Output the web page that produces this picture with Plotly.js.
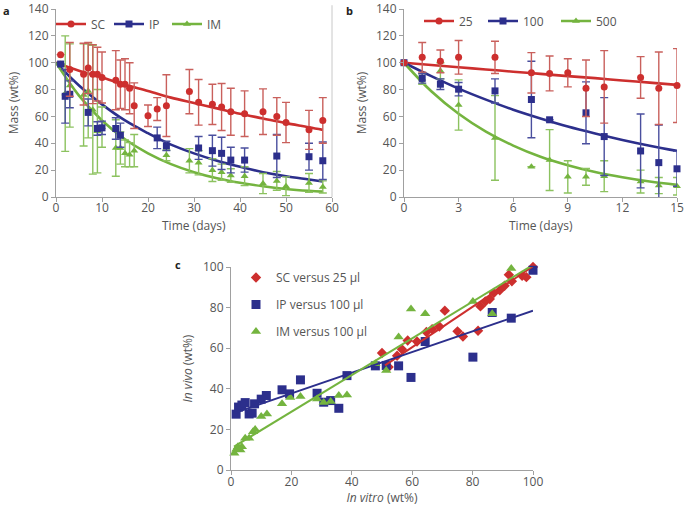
<!DOCTYPE html>
<html>
<head>
<meta charset="utf-8">
<script src="https://cdn.plot.ly/plotly-3.0.1.min.js"></script>
<style>html,body{margin:0;padding:0;background:#fff;}#chart{width:685px;height:506px;}</style>
</head>
<body>
<div id="chart"></div>
<script>
// ---------- Panel a : in vivo degradation by route ----------
var aSCday  = [1,3,6,7,8,9,10,13,14,15,16,17,20,22,24,29,31,34,36,38,41,45,48,50,55,58];
var aSCmass = [106,95,91.5,96,91.5,91.5,89,87,84,84,81,68,60.5,65.5,68,78.5,70.5,69,67,63.5,62,63.5,60,55.5,50,57];
var aSCerr  = [0,20,23,19,22,20,19,22,18,19,19,17,8,8.5,23,16.5,17,15,17.5,17.5,17,17,14,15,14.5,17];

var aIPday  = [1,2,3,7,9,10,13,14,22,24,31,34,36,38,41,48,55,58];
var aIPmass = [99,75,76.5,63,51,51.5,51,46,44,38,36.5,34.5,32.5,27.5,27.5,30.5,30,27];
var aIPerr  = [0,20,10,10,5,5,8,9,8,3.5,8.5,11.5,12,9.5,9,16,10,14];

var aIMday  = [1,2,3,6,7,8,9,10,13,14,15,16,17,24,29,31,34,36,38,41,45,48,50,55,58];
var aIMmass = [99,77,83,76,79,65,49,52,36.5,36.5,32.5,31.5,34.5,31,27,25.5,20,18.5,16,15.5,10,12,8,10.5,7.5];
var aIMerr  = [0,43,31,38,35,48,31,15,21,12,10,9,12,4,9,9,8.5,6,5,7,7.5,7,7,7,4.5];

var fitAday = [0,5,10,15,20,25,30,35,40,45,50,55,58];
var fitASC  = [100,94,89,83.5,79,74,70,66,62,58.5,55,52,50];
var fitAIP  = [100,83,69,57,47.5,39,32.5,27,22.5,18.5,15.5,13,11.5];
var fitAIM  = [100,75.5,57,43,32.5,24.5,18.5,14,10.6,8,6,4.6,4];

var aNames = ['SC','IP','IM'];

// ---------- Panel b : in vitro degradation by volume ----------
var bDay     = [0,1,2,3,5,7,8,9,10,11,13,14,15];
var b25mass  = [100,104,101,104,104,92.5,92,92.5,81,82,89,81,83];
var b25err   = [0,11,8.5,12.5,12,15,13,10.5,21,27,15.5,27,27.5];
var b100day  = [0,1,2,3,5,7,8,10,11,13,14,15];
var b100mass = [100,88.3,84,80.3,79,72.6,57.5,62.7,45,34.3,25.6,21];
var b100err  = [0,3.5,4,5,9,28.5,0,23,29,27.5,28,13];
var b500mass = [100,88,94,68.5,44,22.5,27.5,15,15,15.5,11.5,8.5,8];
var b500err  = [0,4,6,18.7,31.5,0,22.7,12,6.2,11.5,8.5,6,6.5];

var fitBday  = [0,1.5,3,4.5,6,7.5,9,10.5,12,13.5,15];
var fitB25   = [100,98.3,96.6,95,93.3,91.7,90,88.5,86.8,85.2,83.5];
var fitB100  = [100,90,80.7,72.5,65,58.5,52.5,47.3,42.5,38.2,34.3];
var fitB500  = [100,78.7,62,48.7,38.3,30,23.7,18.6,14.7,11.5,9];

var bNames = ['25','100','500'];

// ---------- Panel c : in vivo vs in vitro correlation ----------
var cSCx = [50,52.2,55,56.6,58.5,61.6,64.7,66.6,69,70.8,75,76.8,81.8,82.6,84.2,85.7,87,89,90.6,92,93,96.4,97.8,100];
var cSCy = [57.6,50.7,56.3,59.5,63.8,63.3,68,69.4,70.7,78.5,68.3,65.8,68.6,80.6,83,84.2,87.2,88.5,90.8,96.2,93,95.7,95,100];
var cIPx = [1.7,2.5,3.6,4.7,6,7,7.8,10,11.7,16.9,19.4,23,28.5,30.7,33,35.7,38.4,47.8,51.4,55.5,59.6,64.3,80.1,86.5,92.8,100];
var cIPy = [27.5,31,32,33.2,27.6,28,32.6,34.9,36.7,39.5,37.5,44.4,37.8,33.4,34.2,30.4,46.5,51.3,51.5,51.3,45.6,63.3,55.6,77.6,74.8,98.4];
var cIMx = [1.1,1.8,2.3,3.1,3.6,4.7,6,7.3,8,10,11.9,16.9,19.6,23,28.5,30.7,33,35.7,38.4,47.8,51.4,55.5,59.6,64.3,80.1,86.5,92.8,100];
var cIMy = [8.2,10.2,11.5,9.9,11.5,15.6,15.6,18.9,20,26.3,27.6,32.6,35.7,36.2,35,33.2,33.7,36.7,37,52.3,49,65.5,79.3,77,83,77,99.2,100.3];

var fitCSCx = [51,100],  fitCSCy = [51.5,100.3];
var fitCIPx = [1,100],   fitCIPy = [28,78.5];
var fitCIMx = [1,100],   fitCIMy = [11.5,101];

var cNames = ['SC versus 25 \u00b5l','IP versus 100 \u00b5l','IM versus 100 \u00b5l'];

// ---------- styles ----------
var RED = '#cd2f2e', BLUE = '#2c2f8c', GREEN = '#74b43f';
var RED_E = '#c9605c', BLUE_E = '#4a4f9e', GREEN_E = '#8cc25f';
var FONT = 'Open Sans, Liberation Sans, sans-serif';
var W = 685, H = 506;

function pts(x, y, err, color, ecolor, symbol, xa, ya) {
  return {x: x, y: y, type: 'scatter', mode: 'markers', xaxis: xa, yaxis: ya,
    showlegend: false, cliponaxis: false,
    marker: {color: color, size: 7, symbol: symbol},
    error_y: {type: 'data', array: err, visible: true, color: ecolor, thickness: 1.4, width: 4}};
}
function fit(x, y, color, xa, ya) {
  return {x: x, y: y, type: 'scatter', mode: 'lines', xaxis: xa, yaxis: ya,
    showlegend: false, hoverinfo: 'skip', cliponaxis: false,
    line: {color: color, width: 2.6, shape: 'spline'}};
}
function key(name, color, symbol, xa, ya, leg, lw) {
  return {x: [null], y: [null], type: 'scatter', mode: 'lines+markers', xaxis: xa, yaxis: ya,
    name: name, legend: leg, legendwidth: lw,
    line: {color: color, width: 2.6}, marker: {color: color, size: 7, symbol: symbol}};
}

var traces = [
  // panel a
  fit(fitAday, fitASC, RED, 'x', 'y'),
  fit(fitAday, fitAIP, BLUE, 'x', 'y'),
  fit(fitAday, fitAIM, GREEN, 'x', 'y'),
  pts(aIMday, aIMmass, aIMerr, GREEN, GREEN_E, 'triangle-up', 'x', 'y'),
  pts(aIPday, aIPmass, aIPerr, BLUE, BLUE_E, 'square', 'x', 'y'),
  pts(aSCday, aSCmass, aSCerr, RED, RED_E, 'circle', 'x', 'y'),
  key(aNames[0], RED, 'circle', 'x', 'y', 'legend', 13),
  key(aNames[1], BLUE, 'square', 'x', 'y', 'legend', 13),
  key(aNames[2], GREEN, 'triangle-up', 'x', 'y', 'legend', 13),
  // panel b
  fit(fitBday, fitB25, RED, 'x2', 'y2'),
  fit(fitBday, fitB100, BLUE, 'x2', 'y2'),
  fit(fitBday, fitB500, GREEN, 'x2', 'y2'),
  pts(bDay, b500mass, b500err, GREEN, GREEN_E, 'triangle-up', 'x2', 'y2'),
  pts(b100day, b100mass, b100err, BLUE, BLUE_E, 'square', 'x2', 'y2'),
  pts(bDay, b25mass, b25err, RED, RED_E, 'circle', 'x2', 'y2'),
  key(bNames[0], RED, 'circle', 'x2', 'y2', 'legend2', 19),
  key(bNames[1], BLUE, 'square', 'x2', 'y2', 'legend2', 28),
  key(bNames[2], GREEN, 'triangle-up', 'x2', 'y2', 'legend2', 20),
  // panel c
  {x: cSCx, y: cSCy, type: 'scatter', mode: 'markers', xaxis: 'x3', yaxis: 'y3', name: cNames[0],
   legend: 'legend3', legendgroup: 'c1', cliponaxis: false, marker: {color: RED, size: 8, symbol: 'diamond'}},
  {x: cIPx, y: cIPy, type: 'scatter', mode: 'markers', xaxis: 'x3', yaxis: 'y3', name: cNames[1],
   legend: 'legend3', legendgroup: 'c2', cliponaxis: false, marker: {color: BLUE, size: 9, symbol: 'square'}},
  {x: cIMx, y: cIMy, type: 'scatter', mode: 'markers', xaxis: 'x3', yaxis: 'y3', name: cNames[2],
   legend: 'legend3', legendgroup: 'c3', cliponaxis: false, marker: {color: GREEN, size: 9, symbol: 'triangle-up'}},
  {x: fitCSCx, y: fitCSCy, type: 'scatter', mode: 'lines', xaxis: 'x3', yaxis: 'y3', showlegend: false, cliponaxis: false, line: {color: RED, width: 2}},
  {x: fitCIPx, y: fitCIPy, type: 'scatter', mode: 'lines', xaxis: 'x3', yaxis: 'y3', showlegend: false, cliponaxis: false, line: {color: BLUE, width: 2}},
  {x: fitCIMx, y: fitCIMy, type: 'scatter', mode: 'lines', xaxis: 'x3', yaxis: 'y3', showlegend: false, cliponaxis: false, line: {color: GREEN, width: 2}}
];

function ax(domain, range, dtick, anchor, title, standoff, lstand) {
  return {domain: domain, range: range, dtick: dtick, tick0: 0, anchor: anchor,
    showgrid: false, zeroline: false, showline: true, linecolor: '#a0a0a0', linewidth: 1,
    ticks: 'outside', ticklen: 4, tickcolor: '#a0a0a0', fixedrange: true,
    ticklabeloverflow: 'allow', ticklabelstandoff: lstand,
    tickfont: {family: FONT, size: 12, color: '#555'},
    title: {text: title, standoff: standoff, font: {family: FONT, size: 12, color: '#555'}}};
}
function px(v) { return v / W; }
function py(v) { return 1 - v / H; }
var titleFont = {family: FONT, size: 12, color: '#555'};

var layout = {
  width: W, height: H, margin: {l: 0, r: 0, t: 0, b: 0},
  paper_bgcolor: '#fff', plot_bgcolor: 'rgba(0,0,0,0)',
  font: {family: FONT, color: '#555'},
  xaxis:  ax([px(56), px(332)], [0, 60], 10, 'y', '', 0, -4),
  yaxis:  ax([py(197), py(9)], [0, 140], 20, 'x', 'Mass (wt%)', 6, 0),
  xaxis2: ax([px(404), px(677)], [0, 15], 3, 'y2', '', 0, -4),
  yaxis2: ax([py(197), py(9)], [0, 140], 20, 'x2', 'Mass (wt%)', 6, 0),
  xaxis3: ax([px(231), px(533)], [0, 100], 20, 'y3', '<i>In vitro</i> (wt%)', 7, -3),
  yaxis3: ax([py(470), py(267)], [0, 100], 20, 'x3', '<i>In vivo</i> (wt%)', 7, 0),
  legend:  {orientation: 'h', x: px(51), y: py(24), xanchor: 'left', yanchor: 'middle',
            bgcolor: 'rgba(0,0,0,0)', font: {family: FONT, size: 12, color: '#555'}},
  legend2: {orientation: 'h', x: px(419), y: py(21), xanchor: 'left', yanchor: 'middle',
            bgcolor: 'rgba(0,0,0,0)', font: {family: FONT, size: 12, color: '#555'}},
  legend3: {orientation: 'v', x: px(236), y: py(263), xanchor: 'left', yanchor: 'top',
            tracegroupgap: 8, bgcolor: 'rgba(0,0,0,0)', font: {family: FONT, size: 12, color: '#555'}},
  shapes: [
    {type: 'line', xref: 'x domain', yref: 'y domain', x0: 1, x1: 1, y0: 0, y1: 1.02,
     line: {color: '#c8c8c8', width: 1}}
  ],
  annotations: [
    {text: 'Time (days)', xref: 'x domain', yref: 'paper', x: 0.5, y: py(225), xanchor: 'center', yanchor: 'middle', showarrow: false, font: titleFont},
    {text: 'Time (days)', xref: 'x2 domain', yref: 'paper', x: 0.5, y: py(225), xanchor: 'center', yanchor: 'middle', showarrow: false, font: titleFont},
    {text: '<b>a</b>', xref: 'paper', yref: 'paper', x: px(1), y: py(1), xanchor: 'left', yanchor: 'top', showarrow: false, font: {family: FONT, size: 11, color: '#222'}},
    {text: '<b>b</b>', xref: 'paper', yref: 'paper', x: px(344), y: py(1), xanchor: 'left', yanchor: 'top', showarrow: false, font: {family: FONT, size: 11, color: '#222'}},
    {text: '<b>c</b>', xref: 'paper', yref: 'paper', x: px(173), y: py(255), xanchor: 'left', yanchor: 'top', showarrow: false, font: {family: FONT, size: 11, color: '#222'}}
  ]
};

Plotly.newPlot('chart', traces, layout, {displayModeBar: false, staticPlot: true});
</script>
</body>
</html>
